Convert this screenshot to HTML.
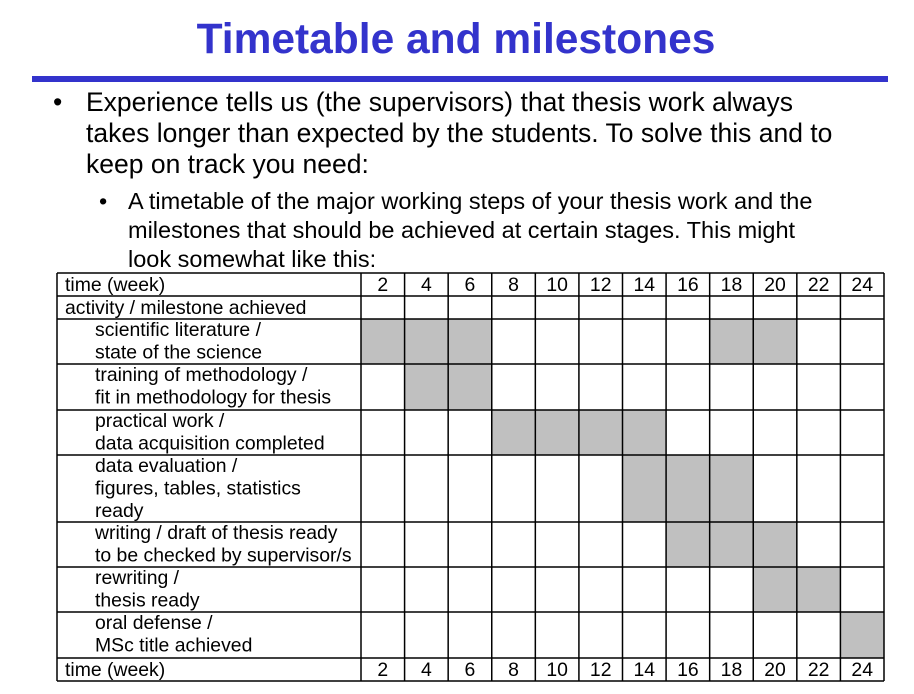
<!DOCTYPE html>
<html><head><meta charset="utf-8"><style>
body{margin:0;width:914px;height:694px;background:#fff;overflow:hidden;font-family:"Liberation Sans",Arial,sans-serif}
</style></head><body>
<svg width="914" height="694" style="position:absolute;left:0;top:0">
<text x="456" y="53" text-anchor="middle" font-size="42.5" font-weight="bold" fill="#3333cc">Timetable and milestones</text>
<rect x="32" y="76" width="856" height="6" fill="#3333cc"/>
<g font-size="26.5" fill="#000">
<text x="53" y="111">•</text>
<text x="86" y="111">Experience tells us (the supervisors) that thesis work always</text>
<text x="86" y="142">takes longer than expected by the students. To solve this and to</text>
<text x="86" y="173">keep on track you need:</text>
</g>
<g font-size="23.5" fill="#000">
<text x="99" y="209">•</text>
<text x="128" y="209">A timetable of the major working steps of your thesis work and the</text>
<text x="128" y="238">milestones that should be achieved at certain stages. This might</text>
<text x="128" y="267">look somewhat like this:</text>
</g>
<g id="tbl"></g>
</svg>
<script>
const weeks=["2","4","6","8","10","12","14","16","18","20","22","24"];
const activities=[["scientific literature /","state of the science"],["training of methodology /","fit in methodology for thesis"],["practical work /","data acquisition completed"],["data evaluation /","figures, tables, statistics","ready"],["writing / draft of thesis ready","to be checked by supervisor/s"],["rewriting /","thesis ready"],["oral defense /","MSc title achieved"]];
const activeWeeks=[[2,4,6,18,20],[4,6],[8,10,12,14],[14,16,18],[16,18,20],[20,22],[24]];
const rowY=[273,296,319,364,410,455,522,567,612,658,681];
const NS="http://www.w3.org/2000/svg";
const g=document.getElementById('tbl');
const x0=57,x1=361,x2=884,cw=(x2-x1)/weeks.length;
function colX(i){return x1+i*cw;}
function mk(t,a){const e=document.createElementNS(NS,t);for(const k in a)e.setAttribute(k,a[k]);g.appendChild(e);return e;}
activeWeeks.forEach((ws,r)=>{ws.forEach(w=>{const i=weeks.indexOf(String(w));
const c=mk('rect',{x:colX(i),y:rowY[r+2],width:cw,height:rowY[r+3]-rowY[r+2],fill:'#c0c0c0'});

});});
rowY.forEach(y=>mk('line',{x1:x0,x2:x2,y1:y,y2:y,stroke:'#000','stroke-width':1.5}));
[x0,x1].forEach(x=>mk('line',{x1:x,x2:x,y1:rowY[0],y2:rowY[10],stroke:'#000','stroke-width':1.5}));
for(let i=1;i<=weeks.length;i++)mk('line',{x1:colX(i),x2:colX(i),y1:rowY[0],y2:rowY[10],stroke:'#000','stroke-width':1.5});
function txt(x,y,s,anchor){const t=mk('text',{x:x,y:y,'font-size':19.4,'text-anchor':anchor||'start'});t.textContent=s;return t;}
[[0,'time-week-header'],[9,'time-week-footer']].forEach(([r,n])=>{
const t=txt(65,rowY[r]+18,'time (week)');
weeks.forEach((w,i)=>{const l=txt(colX(i)+cw/2,rowY[r]+18,w,'middle');});});
const h=txt(65,rowY[1]+18,'activity / milestone achieved');
activities.forEach((lines,r)=>lines.forEach((s,k)=>{const t=txt(95,rowY[r+2]+17+k*22.5,s);

}));
</script>
</body></html>
